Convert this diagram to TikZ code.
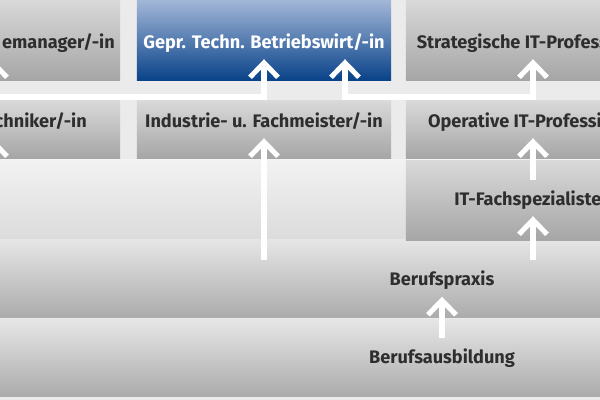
\documentclass[tikz,border=0pt]{standalone}
\usepackage{fontspec}
\usepackage{xcolor}
\usepackage{tikz}
\usetikzlibrary{arrows.meta, shapes}

\newfontfamily\kastenfont{Fira Sans}
\definecolor{schrift}{HTML}{2E2E2E}
\definecolor{blauoben}{HTML}{A2B7D8}
\definecolor{blaumitte}{HTML}{4570AE}
\definecolor{blauunten}{HTML}{0A4389}

\begin{document}
\begin{tikzpicture}[x=0.025cm, y=-0.025cm]
            \useasboundingbox (0,0) rectangle (600,400);
            \clip (0,0) rectangle (600,400);

            % hintergrund
            \fill[black!8] (0,0) rectangle (600,400);
            \shade[top color=black!5, bottom color=black!14] (0,160) rectangle (600,240);
            \shade[top color=black!10, bottom color=black!33] (0,240) rectangle (600,318);
            \shade[top color=black!10, bottom color=black!33] (0,320) rectangle (600,397);

            \begin{scope}[every node/.style={shape=rectangle, minimum width=6.35cm, inner sep=0pt,
                                             top color=black!15, bottom color=black!35}]
                \node[minimum height=2cm] (k11) at (-7,40) {};
                \node[minimum height=2cm, top color=blauoben, middle color=blaumitte,
                      bottom color=blauunten] (k12) at (264,40) {};
                \node[minimum height=2cm] (k13) at (533,40) {};
                \node[minimum height=1.425cm] (k21) at (-7,129.5) {};
                \node[minimum height=1.425cm] (k22) at (264,129.5) {};
                \node[minimum height=1.425cm] (k23) at (533,129.5) {};
                \node[minimum height=1.975cm] (k33) at (533,200.5) {};
            \end{scope}

            \begin{scope}[every node/.style={font=\kastenfont\bfseries\fontsize{12.9}{14}\selectfont,
                                             text=schrift, text height=8.9pt, text depth=0pt,
                                             inner xsep=0pt, inner ysep=7.6pt}]
                \node[anchor=east] (t11) at (115,42) {emanager/-in};
                \node[text=white] (t12) at (264,42) {Gepr. Techn. Betriebswirt/-in};
                \node (t13) at (533,42) {Strategische IT-Professional};
                \node[anchor=east] (t21) at (87,121) {chniker/-in};
                \node (t22) at (264,121) {Industrie- u. Fachmeister/-in};
                \node (t23) at (533,121) {Operative IT-Professional};
                \node (t33) at (533,199) {IT-Fachspezialisten};
                \node (praxis) at (442,279.5) {Berufspraxis};
                \node (ausbildung) at (442,357.5) {Berufsausbildung};
            \end{scope}

            \coordinate (quer) at (0,97);
            \coordinate (s21) at (-7,180);
            \coordinate (s22) at (264,260);
            \coordinate (s23) at (533,180);
            \coordinate (s33) at (533,260);
            \coordinate (s41) at (442,338);

            \begin{scope}[>={Straight Barb[length=3.6mm, width=7mm]},
                          every edge/.style={draw=white, line width=3.6pt}]
                \path[->] (s21) edge (-7,0 |- t21.south);
                \path[->] (s22) edge (t22.south);
                \path[->] (s23) edge (t23.south);
                \path[->] (s33) edge (t33.south);
                \path[->] (s41) edge (praxis.south);
                \draw[<->, white, line width=3.6pt] (-7,0 |- t11.south) -- (-7,0 |- quer)
                    -- (t12.south |- quer) -- (t12.south);
                \draw[<->, white, line width=3.6pt] (345,0 |- t12.south) -- (345,0 |- quer)
                    -- (t13.south |- quer) -- (t13.south);
            \end{scope}

\end{tikzpicture}
\end{document}
